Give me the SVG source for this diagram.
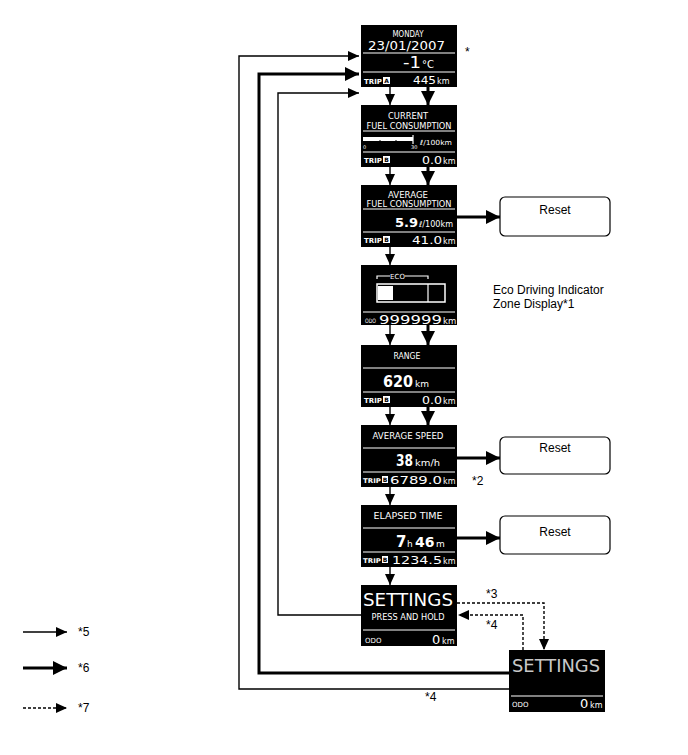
<svg xmlns="http://www.w3.org/2000/svg" width="688" height="755" viewBox="0 0 688 755">
<style>
.bg{fill:#fff}
.disp{fill:#000}
.wl{stroke:#fff;stroke-width:1.2;fill:none}
.t{fill:#fff;font-family:"DejaVu Sans",sans-serif}
.tb{fill:#fff;font-family:"DejaVu Sans",sans-serif;font-weight:bold}
.lab{fill:#000;font-family:"Liberation Sans",Arial,sans-serif;font-size:12px}
.thin{stroke:#000;stroke-width:1.4;fill:none}
.thick{stroke:#000;stroke-width:3;fill:none}
.dash{stroke:#000;stroke-width:1.4;fill:none;stroke-dasharray:3,2}
.reset{fill:#fff;stroke:#000;stroke-width:1.2}
.tbox{fill:#fff}
.tboxl{fill:#000;font-family:"DejaVu Sans",sans-serif;font-size:6px;font-weight:bold}
</style>
<defs>
<marker id="ah" markerUnits="userSpaceOnUse" markerWidth="12" markerHeight="10" refX="11" refY="5" orient="auto">
<path d="M0,0 L11,5 L0,10 Z" fill="#000"/>
</marker>
<marker id="ahb" markerUnits="userSpaceOnUse" markerWidth="15" markerHeight="14" refX="14" refY="7" orient="auto">
<path d="M0,0 L14,7 L0,14 Z" fill="#000"/>
</marker>
</defs>
<rect class="bg" x="0" y="0" width="688" height="755"/>

<g id="connectors">
<polyline class="thin" points="509,689 239,689 239,56 359,56" marker-end="url(#ah)"/>
<polyline class="thick" points="509,673 259,673 259,74 359,74" marker-end="url(#ahb)"/>
<polyline class="thin" points="361,615 278,615 278,93 359,93" marker-end="url(#ah)"/>
<line class="thin" x1="390" y1="87" x2="390" y2="105" marker-end="url(#ah)"/>
<line class="thick" x1="428" y1="87" x2="428" y2="105" marker-end="url(#ahb)"/>
<line class="thin" x1="390" y1="167" x2="390" y2="185" marker-end="url(#ah)"/>
<line class="thick" x1="428" y1="167" x2="428" y2="185" marker-end="url(#ahb)"/>
<line class="thin" x1="390" y1="247" x2="390" y2="265" marker-end="url(#ah)"/>
<line class="thin" x1="390" y1="325" x2="390" y2="345" marker-end="url(#ah)"/>
<line class="thick" x1="428" y1="325" x2="428" y2="345" marker-end="url(#ahb)"/>
<line class="thin" x1="390" y1="407" x2="390" y2="425" marker-end="url(#ah)"/>
<line class="thick" x1="428" y1="407" x2="428" y2="425" marker-end="url(#ahb)"/>
<line class="thin" x1="390" y1="487" x2="390" y2="505" marker-end="url(#ah)"/>
<line class="thin" x1="390" y1="567" x2="390" y2="585" marker-end="url(#ah)"/>
<line class="thick" x1="457" y1="217" x2="500" y2="217" marker-end="url(#ahb)"/>
<line class="thick" x1="457" y1="458" x2="500" y2="458" marker-end="url(#ahb)"/>
<line class="thick" x1="457" y1="538" x2="500" y2="538" marker-end="url(#ahb)"/>
<polyline class="dash" points="457,603 544,603 544,650" marker-end="url(#ah)"/>
<polyline class="dash" points="523,650 523,615 458,615" marker-end="url(#ah)"/>
</g>

<g id="n1">
<rect class="disp" x="361" y="25" width="96" height="62"/>
<text class="t" x="408" y="37" font-size="9" text-anchor="middle" textLength="31" lengthAdjust="spacingAndGlyphs">MONDAY</text>
<text class="t" x="368" y="50" font-size="13" textLength="77" lengthAdjust="spacingAndGlyphs">23/01/2007</text>
<line class="wl" x1="363" y1="53" x2="455" y2="53"/>
<text class="t" x="403" y="68" font-size="15" textLength="18" lengthAdjust="spacingAndGlyphs">-1</text>
<text class="t" x="422" y="68" font-size="10">°C</text>
<line class="wl" x1="363" y1="72" x2="455" y2="72"/>
<text class="tb" x="364" y="84" font-size="7">TRIP</text>
<rect class="tbox" x="383" y="77" width="7" height="7"/>
<text class="tboxl" x="386.5" y="83" text-anchor="middle">A</text>
<text class="t" x="413" y="84" font-size="11" textLength="23" lengthAdjust="spacingAndGlyphs">445</text>
<text class="t" x="437" y="84" font-size="8">km</text>
</g>

<g id="n2">
<rect class="disp" x="361" y="105" width="96" height="62"/>
<text class="t" x="408" y="119" font-size="8.5" text-anchor="middle" textLength="40" lengthAdjust="spacingAndGlyphs">CURRENT</text>
<text class="t" x="409" y="129" font-size="8.5" text-anchor="middle" textLength="85" lengthAdjust="spacingAndGlyphs">FUEL CONSUMPTION</text>
<line class="wl" x1="363" y1="131" x2="455" y2="131"/>
<rect x="363" y="137" width="50" height="4" fill="#fff"/>
<line x1="380" y1="140" x2="380" y2="141" stroke="#000"/>
<line x1="396" y1="140" x2="396" y2="141" stroke="#000"/>
<line class="wl" x1="413" y1="135" x2="413" y2="144"/>
<text class="t" x="363" y="149" font-size="5">0</text>
<text class="t" x="411" y="149" font-size="5">30</text>
<text class="t" x="420" y="145" font-size="7" textLength="32" lengthAdjust="spacingAndGlyphs">ℓ/100km</text>
<line class="wl" x1="363" y1="152" x2="455" y2="152"/>
<text class="tb" x="364" y="163" font-size="7">TRIP</text>
<rect class="tbox" x="383" y="156" width="7" height="7"/>
<text class="tboxl" x="386.5" y="162" text-anchor="middle">B</text>
<text class="t" x="422" y="164" font-size="11" textLength="20" lengthAdjust="spacingAndGlyphs">0.0</text>
<text class="t" x="443" y="164" font-size="8">km</text>
</g>

<g id="n3">
<rect class="disp" x="361" y="185" width="96" height="62"/>
<text class="t" x="408" y="198" font-size="8.5" text-anchor="middle" textLength="40" lengthAdjust="spacingAndGlyphs">AVERAGE</text>
<text class="t" x="409" y="207" font-size="8.5" text-anchor="middle" textLength="85" lengthAdjust="spacingAndGlyphs">FUEL CONSUMPTION</text>
<line class="wl" x1="363" y1="209" x2="455" y2="209"/>
<text class="tb" x="395" y="227" font-size="13">5.9</text>
<text class="t" x="419" y="227" font-size="8" textLength="34" lengthAdjust="spacingAndGlyphs">ℓ/100km</text>
<line class="wl" x1="363" y1="232" x2="455" y2="232"/>
<text class="tb" x="364" y="243" font-size="7">TRIP</text>
<rect class="tbox" x="383" y="236" width="7" height="7"/>
<text class="tboxl" x="386.5" y="242" text-anchor="middle">B</text>
<text class="t" x="412" y="244" font-size="11" textLength="30" lengthAdjust="spacingAndGlyphs">41.0</text>
<text class="t" x="443" y="244" font-size="8">km</text>
</g>

<g id="reset1">
<rect class="reset" x="500" y="197" width="110" height="39" rx="5"/>
<text class="lab" x="555" y="214" text-anchor="middle">Reset</text>
</g>

<g id="n4">
<rect class="disp" x="361" y="265" width="96" height="60"/>
<polyline class="wl" points="377,279 377,276 390,276"/>
<polyline class="wl" points="405,276 428,276 428,279"/>
<text class="t" x="397.5" y="279" font-size="7" text-anchor="middle">ECO</text>
<rect x="377" y="284" width="68" height="18" fill="none" stroke="#fff" stroke-width="1.5"/>
<rect x="378" y="286" width="15" height="14" fill="#fff"/>
<line class="wl" x1="428" y1="284" x2="428" y2="302" stroke-width="1.5"/>
<line class="wl" x1="363" y1="312" x2="455" y2="312"/>
<text class="t" x="365" y="323" font-size="6" textLength="11" lengthAdjust="spacingAndGlyphs">ODO</text>
<text class="t" x="379" y="324" font-size="12" textLength="63" lengthAdjust="spacingAndGlyphs">999999</text>
<text class="t" x="443" y="324" font-size="8.5">km</text>
</g>

<g id="eco-label">
<text class="lab" x="493" y="294">Eco Driving Indicator</text>
<text class="lab" x="493" y="308">Zone Display*1</text>
</g>

<g id="n5">
<rect class="disp" x="361" y="345" width="96" height="62"/>
<text class="t" x="407" y="359" font-size="8" text-anchor="middle" textLength="27" lengthAdjust="spacingAndGlyphs">RANGE</text>
<line class="wl" x1="363" y1="368" x2="455" y2="368"/>
<text class="tb" x="383" y="387" font-size="16" textLength="30" lengthAdjust="spacingAndGlyphs">620</text>
<text class="t" x="415" y="387" font-size="9">km</text>
<line class="wl" x1="363" y1="392" x2="455" y2="392"/>
<text class="tb" x="364" y="403" font-size="7">TRIP</text>
<rect class="tbox" x="383" y="396" width="7" height="7"/>
<text class="tboxl" x="386.5" y="402" text-anchor="middle">B</text>
<text class="t" x="422" y="404" font-size="11" textLength="20" lengthAdjust="spacingAndGlyphs">0.0</text>
<text class="t" x="443" y="404" font-size="8">km</text>
</g>

<g id="n6">
<rect class="disp" x="361" y="425" width="96" height="62"/>
<text class="t" x="408" y="439" font-size="8" text-anchor="middle" textLength="71" lengthAdjust="spacingAndGlyphs">AVERAGE SPEED</text>
<line class="wl" x1="363" y1="448" x2="455" y2="448"/>
<text class="tb" x="396" y="466" font-size="15" textLength="17" lengthAdjust="spacingAndGlyphs">38</text>
<text class="t" x="415" y="466" font-size="9" textLength="25" lengthAdjust="spacingAndGlyphs">km/h</text>
<line class="wl" x1="363" y1="472" x2="455" y2="472"/>
<text class="tb" x="363" y="483" font-size="6.5" textLength="18" lengthAdjust="spacingAndGlyphs">TRIP</text>
<rect class="tbox" x="382" y="476" width="6" height="7"/>
<text class="tboxl" x="385" y="482" text-anchor="middle" font-size="5">B</text>
<text class="t" x="390" y="484" font-size="11" textLength="52" lengthAdjust="spacingAndGlyphs">6789.0</text>
<text class="t" x="443" y="484" font-size="8">km</text>
</g>

<g id="reset2">
<rect class="reset" x="500" y="437" width="110" height="37" rx="5"/>
<text class="lab" x="555" y="452" text-anchor="middle">Reset</text>
<text class="lab" x="472" y="485">*2</text>
</g>

<g id="n7">
<rect class="disp" x="361" y="505" width="96" height="62"/>
<text class="t" x="408" y="519" font-size="8" text-anchor="middle" textLength="69" lengthAdjust="spacingAndGlyphs">ELAPSED TIME</text>
<line class="wl" x1="363" y1="528" x2="455" y2="528"/>
<text class="tb" x="396" y="547" font-size="15">7</text>
<text class="t" x="407" y="547" font-size="9">h</text>
<text class="tb" x="415" y="547" font-size="14">46</text>
<text class="t" x="436" y="547" font-size="9">m</text>
<line class="wl" x1="363" y1="552" x2="455" y2="552"/>
<text class="tb" x="363" y="563" font-size="6.5" textLength="18" lengthAdjust="spacingAndGlyphs">TRIP</text>
<rect class="tbox" x="382" y="556" width="6" height="7"/>
<text class="tboxl" x="385" y="562" text-anchor="middle" font-size="5">B</text>
<text class="t" x="392" y="564" font-size="11" textLength="50" lengthAdjust="spacingAndGlyphs">1234.5</text>
<text class="t" x="443" y="564" font-size="8">km</text>
</g>

<g id="reset3">
<rect class="reset" x="500" y="516" width="110" height="38" rx="5"/>
<text class="lab" x="555" y="536" text-anchor="middle">Reset</text>
</g>

<g id="n8">
<rect class="disp" x="361" y="585" width="96" height="61"/>
<text class="t" x="408" y="606" font-size="17" text-anchor="middle" textLength="90" lengthAdjust="spacingAndGlyphs">SETTINGS</text>
<text class="t" x="408" y="620" font-size="8" text-anchor="middle" textLength="73" lengthAdjust="spacingAndGlyphs">PRESS AND HOLD</text>
<line class="wl" x1="363" y1="630" x2="455" y2="630"/>
<text class="t" x="365" y="643" font-size="7">ODO</text>
<text class="t" x="432" y="644" font-size="13">0</text>
<text class="t" x="442" y="644" font-size="8">km</text>
<text class="lab" x="486" y="598">*3</text>
<text class="lab" x="486" y="629">*4</text>
</g>

<g id="n9">
<rect class="disp" x="509" y="650" width="96" height="62"/>
<text x="556" y="672" font-size="18" text-anchor="middle" textLength="88" lengthAdjust="spacingAndGlyphs" fill="#c8c8c8" font-family="DejaVu Sans,sans-serif">SETTINGS</text>
<line class="wl" x1="511" y1="696" x2="603" y2="696"/>
<text class="t" x="512" y="707" font-size="7">ODO</text>
<text class="t" x="580" y="708" font-size="13">0</text>
<text class="t" x="590" y="708" font-size="8">km</text>
</g>

<g id="notes">
<text class="lab" x="465" y="56">*</text>
<text class="lab" x="425" y="701">*4</text>
</g>

<g id="legend">
<line class="thin" x1="23" y1="632" x2="67" y2="632" marker-end="url(#ah)"/>
<text class="lab" x="78" y="636">*5</text>
<line class="thick" x1="23" y1="668" x2="67" y2="668" marker-end="url(#ahb)"/>
<text class="lab" x="78" y="672">*6</text>
<line class="dash" x1="23" y1="708" x2="67" y2="708" marker-end="url(#ah)"/>
<text class="lab" x="78" y="712">*7</text>
</g>
</svg>
